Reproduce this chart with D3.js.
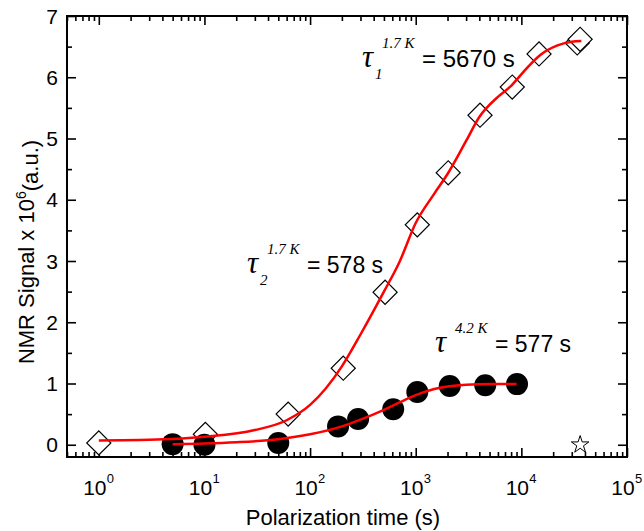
<!DOCTYPE html>
<html>
<head>
<meta charset="utf-8">
<script src="https://cdn.jsdelivr.net/npm/d3@7"></script>
<style>
  body { margin: 0; background: #fff; }
  svg text { font-family: "Liberation Sans", Arial, sans-serif; fill: #000; }
  .tau { font-family: "Liberation Serif", "Times New Roman", serif; font-style: italic; }
</style>
</head>
<body>
<div id="chart"></div>
<script>
// 1.7 K data (open diamonds)
const diamondT = [1, 10.2, 62, 206, 513, 1035, 2030, 4060, 8200, 14700, 33800, 36000];
const diamondS = [0.03, 0.17, 0.5, 1.25, 2.49, 3.59, 4.44, 5.38, 5.84, 6.38, 6.56, 6.62];

// 4.2 K data (filled circles)
const circleT = [5, 10, 50, 184, 285, 612, 1035, 2100, 4550, 9100];
const circleS = [0.01, 0.0, 0.03, 0.3, 0.42, 0.58, 0.86, 0.96, 0.97, 0.99];

// single point (open star)
const starT = [36000];
const starS = [0.0];

// fitted curves
const fit17T = [1, 3, 10, 30, 60, 100, 200, 300, 500, 700, 1000, 1500, 2000, 3000, 4000, 6000, 8000, 11000, 15000, 22000, 30000, 37000];
const fit17S = [0.07, 0.08, 0.13, 0.24, 0.4, 0.65, 1.28, 1.8, 2.5, 2.98, 3.62, 4.1, 4.42, 4.96, 5.35, 5.68, 5.86, 6.13, 6.36, 6.52, 6.58, 6.59];
const fit42T = [5, 10, 20, 50, 100, 200, 300, 500, 700, 1000, 1500, 2000, 3000, 5000, 9000];
const fit42S = [0.01, 0.02, 0.04, 0.09, 0.17, 0.3, 0.41, 0.57, 0.69, 0.81, 0.91, 0.95, 0.98, 0.99, 0.99];

// ticks
const xMajor = [1, 10, 100, 1000, 10000, 100000];
const xExp = ["0", "1", "2", "3", "4", "5"];
const yMajor = [0, 1, 2, 3, 4, 5, 6, 7];
const yMinor = [0.5, 1.5, 2.5, 3.5, 4.5, 5.5, 6.5];

const W = 644, H = 531;
const margin = { top: 16, right: 17, bottom: 74, left: 67 },
    width = W - margin.left - margin.right,
    height = H - margin.top - margin.bottom;

const svg = d3.select("#chart")
    .append("svg")
    .attr("width", W)
    .attr("height", H);

const g = svg.append("g")
    .attr("transform", `translate(${margin.left},${margin.top})`);

const x = d3.scaleLog().domain([0.5, 1e5]).range([0, width]);
const y = d3.scaleLinear().domain([-0.2, 7]).range([height, 0]);

// minor log ticks
let xMinor = [];
for (let e = -1; e < 5; e++) {
    for (let m = 2; m <= 9; m++) {
        const v = m * Math.pow(10, e);
        if (v >= 0.5 && v <= 1e5) xMinor.push(v);
    }
}

function tickAxis(axis, vals, size, tx, ty) {
    const a = g.append("g")
        .attr("transform", `translate(${tx},${ty})`)
        .call(axis.tickValues(vals).tickSizeInner(-size).tickSizeOuter(0).tickFormat(""));
    a.select(".domain").remove();
    a.selectAll(".tick line").attr("stroke", "#000").attr("stroke-width", 1.6);
    return a;
}

tickAxis(d3.axisBottom(x), xMajor, 9, 0, height);
tickAxis(d3.axisBottom(x), xMinor, 5, 0, height);
tickAxis(d3.axisTop(x), xMajor, 9, 0, 0);
tickAxis(d3.axisTop(x), xMinor, 5, 0, 0);
tickAxis(d3.axisLeft(y), yMajor, 9, 0, 0);
tickAxis(d3.axisLeft(y), yMinor, 5, 0, 0);
tickAxis(d3.axisRight(y), yMajor, 9, width, 0);
tickAxis(d3.axisRight(y), yMinor, 5, width, 0);

// y tick labels
g.selectAll(".ylab")
    .data(yMajor)
    .enter()
    .append("text")
    .attr("x", -9)
    .attr("y", d => y(d))
    .attr("dy", "0.36em")
    .attr("text-anchor", "end")
    .style("font-size", "21px")
    .text(d => d);

// x tick labels 10^n
const xl = g.selectAll(".xlab")
    .data(xMajor)
    .enter()
    .append("g")
    .attr("transform", d => `translate(${x(d)},${height + 38})`);
xl.append("text")
    .attr("x", -4)
    .attr("text-anchor", "middle")
    .style("font-size", "21px")
    .text("10");
xl.append("text")
    .attr("x", 8)
    .attr("y", -12)
    .style("font-size", "13px")
    .text((d, i) => xExp[i]);

// frame
g.append("rect")
    .attr("width", width)
    .attr("height", height)
    .attr("fill", "none")
    .attr("stroke", "#000")
    .attr("stroke-width", 2);

// markers
const diamonds = diamondT.map((t, i) => ({ t: t, s: diamondS[i] }));
const circles = circleT.map((t, i) => ({ t: t, s: circleS[i] }));
const stars = starT.map((t, i) => ({ t: t, s: starS[i] }));

g.selectAll(".dia")
    .data(diamonds)
    .enter()
    .append("path")
    .attr("d", d3.symbol().type(d3.symbolSquare).size(290))
    .attr("transform", d => `translate(${x(d.t)},${y(d.s)}) rotate(45)`)
    .attr("fill", "#fff")
    .attr("stroke", "#000")
    .attr("stroke-width", 1.2);

g.selectAll(".dot")
    .data(circles)
    .enter()
    .append("circle")
    .attr("cx", d => x(d.t))
    .attr("cy", d => y(d.s))
    .attr("r", 11)
    .attr("fill", "#000");

g.selectAll(".star")
    .data(stars)
    .enter()
    .append("path")
    .attr("d", d3.symbol().type(d3.symbolStar).size(95))
    .attr("transform", d => `translate(${x(d.t)},${y(d.s)})`)
    .attr("fill", "#fff")
    .attr("stroke", "#000")
    .attr("stroke-width", 1);

// fit curves
const line = d3.line()
    .x(d => x(d.t))
    .y(d => y(d.s))
    .curve(d3.curveMonotoneX);

[[fit17T, fit17S], [fit42T, fit42S]].forEach(([ts, ss]) => {
    g.append("path")
        .datum(ts.map((t, i) => ({ t: t, s: ss[i] })))
        .attr("d", line)
        .attr("fill", "none")
        .attr("stroke", "#ff0000")
        .attr("stroke-width", 2.5);
});

// annotations
function tauLabel(px, py, sup, sub, rest, size) {
    const a = svg.append("g").attr("transform", `translate(${px},${py})`);
    a.append("text").attr("class", "tau").style("font-size", "31px").text("\u03c4");
    a.append("text").attr("class", "tau").attr("x", 20).attr("y", -19).style("font-size", "15px").text(sup);
    if (sub) a.append("text").attr("class", "tau").attr("x", 13).attr("y", 12).style("font-size", "15px").text(sub);
    a.append("text").attr("x", 60).style("font-size", size + "px").text(rest);
}
tauLabel(362, 67, "1.7 K", "1", "= 5670 s", 24);
tauLabel(247, 273, "1.7 K", "2", "= 578 s", 23);
tauLabel(435, 352, "4.2 K", null, "= 577 s", 23);

// axis titles
svg.append("text")
    .attr("x", margin.left + width / 2 - 4)
    .attr("y", 525)
    .attr("text-anchor", "middle")
    .style("font-size", "22px")
    .text("Polarization time (s)");

const yt = svg.append("text")
    .attr("transform", "translate(34,252) rotate(-90)")
    .attr("text-anchor", "middle")
    .style("font-size", "22px");
yt.append("tspan").text("NMR Signal x 10");
yt.append("tspan").attr("dy", "-0.55em").style("font-size", "14px").text("6");
yt.append("tspan").attr("dy", "0.55em").text("(a.u.)");
</script>
</body>
</html>
